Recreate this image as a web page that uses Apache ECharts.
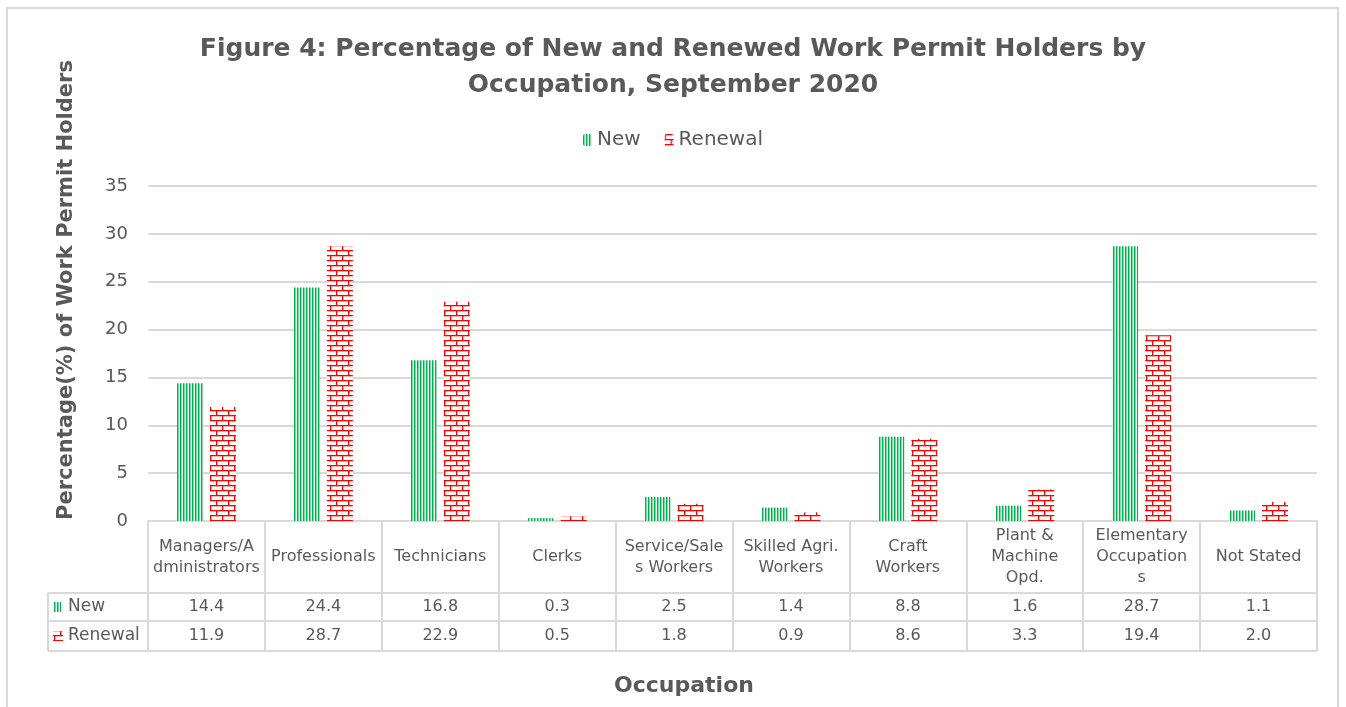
<!DOCTYPE html>
<html><head><meta charset="utf-8">
<script src="https://cdn.jsdelivr.net/npm/echarts@6/dist/echarts.min.js"></script>
<style>html,body{margin:0;padding:0;background:#fff}#c{width:1346px;height:707px}</style>
</head><body><div id="c"></div>
<script>
const categories = ['Managers/A\ndministrators','Professionals','Technicians','Clerks','Service/Sale\ns Workers','Skilled Agri.\nWorkers','Craft\nWorkers','Plant &\nMachine\nOpd.','Elementary\nOccupation\ns','Not Stated'];
const newValues = [14.4,24.4,16.8,0.3,2.5,1.4,8.8,1.6,28.7,1.1];
const renewalValues = [11.9,28.7,22.9,0.5,1.8,0.9,8.6,3.3,19.4,2.0];
const seriesNames = ['New','Renewal'];
const yTicks = {min:0, max:35, interval:5};

const FONT = 'DejaVu Sans';
const GRAY = '#595959';
const LINE = '#d9d9d9';

function stripeCanvas(){
  const c=document.createElement('canvas');c.width=3;c.height=4;
  const x=c.getContext('2d');
  x.fillStyle='#ffffff';x.fillRect(0,0,3,4);
  x.fillStyle='#00B050';x.fillRect(0,0,1,4);
  x.fillStyle='#7fd7a7';x.fillRect(1,0,1,4);
  x.fillStyle='#e8f7ee';x.fillRect(2,0,1,4);
  return c;
}
function brickCanvas(){
  const c=document.createElement('canvas');c.width=12;c.height=10;
  const x=c.getContext('2d');
  x.fillStyle='#ffffff';x.fillRect(0,0,12,10);
  x.fillStyle='#FF0000';
  x.fillRect(0,0,12,1.3);x.fillRect(0,5,12,1.3);
  x.fillRect(0,0,1.3,5);x.fillRect(6,5,1.3,5);
  return c;
}
const greenPat = {image: stripeCanvas(), repeat:'repeat'};
const redPat = {image: brickCanvas(), repeat:'repeat'};

const G = {left:148, right:29, top:186, bottom:186};
const W=1346,H=707;
const gBottom = H-G.bottom;       // 521
const gRight = W-G.right;         // 1317
const row1 = gBottom+72, row2 = row1+28, row3 = row2+30;
const tableLeft = 48;

const chart = echarts.init(document.getElementById('c'), null, {renderer:'canvas'});
chart.setOption({
  animation:false,
  backgroundColor:'#fff',
  title:{text:'Figure 4: Percentage of New and Renewed Work Permit Holders by\nOccupation, September 2020',
    left:'center', top:26,
    textStyle:{fontFamily:FONT, fontWeight:'bold', fontSize:25, color:GRAY, lineHeight:36}},
  legend:{top:125, left:'center', itemWidth:9, itemHeight:12, itemGap:24,
    textStyle:{fontFamily:FONT, fontSize:20, color:GRAY}, data:seriesNames},
  grid:{left:G.left, right:G.right, top:G.top, bottom:G.bottom, containLabel:false},
  xAxis:[
    {type:'category', data:categories, position:'bottom',
     axisLine:{show:true, lineStyle:{color:LINE, width:2}},
     axisTick:{show:true, interval:0, length:row3-gBottom, lineStyle:{color:LINE, width:2}},
     axisLabel:{interval:0, fontFamily:FONT, fontSize:16, color:GRAY, lineHeight:21, verticalAlign:'middle', margin:36}},
    {type:'category', data:categories, position:'bottom', offset:row1-gBottom,
     axisLine:{show:false}, axisTick:{show:false},
     axisLabel:{interval:0, fontFamily:FONT, fontSize:16, color:GRAY, verticalAlign:'middle', margin:14,
       formatter:(v,i)=>newValues[i].toFixed(1)}},
    {type:'category', data:categories, position:'bottom', offset:row2-gBottom,
     axisLine:{show:false}, axisTick:{show:false},
     axisLabel:{interval:0, fontFamily:FONT, fontSize:16, color:GRAY, verticalAlign:'middle', margin:15,
       formatter:(v,i)=>renewalValues[i].toFixed(1)}}
  ],
  yAxis:{type:'value', min:yTicks.min, max:yTicks.max, interval:yTicks.interval,
    axisLine:{show:false}, axisTick:{show:false},
    axisLabel:{fontFamily:FONT, fontSize:18, color:GRAY, margin:20},
    splitLine:{lineStyle:{color:LINE, width:2}}},
  series:[
    {name:seriesNames[0], type:'bar', data:newValues, barWidth:26, barGap:'27%',
     itemStyle:{color:greenPat}},
    {name:seriesNames[1], type:'bar', data:renewalValues, barWidth:26, barGap:'27%',
     itemStyle:{color:redPat}}
  ],
  graphic:[
    {type:'rect', shape:{x:7,y:8,width:1331,height:760}, style:{fill:'none', stroke:LINE, lineWidth:2}, silent:true, z:-1},
    {type:'line', shape:{x1:tableLeft,y1:row1,x2:gRight,y2:row1}, style:{stroke:LINE,lineWidth:2}},
    {type:'line', shape:{x1:tableLeft,y1:row2,x2:gRight,y2:row2}, style:{stroke:LINE,lineWidth:2}},
    {type:'line', shape:{x1:tableLeft,y1:row3,x2:gRight,y2:row3}, style:{stroke:LINE,lineWidth:2}},
    {type:'line', shape:{x1:tableLeft,y1:row1,x2:tableLeft,y2:row3}, style:{stroke:LINE,lineWidth:2}},
    {type:'rect', shape:{x:54,y:row1+9,width:7,height:10}, style:{fill:greenPat}},
    {type:'text', style:{x:68,y:(row1+row2)/2,text:seriesNames[0],font:'17px "DejaVu Sans"',fill:GRAY,verticalAlign:'middle'}},
    {type:'rect', shape:{x:53,y:row2+10,width:10,height:10}, style:{fill:redPat}},
    {type:'text', style:{x:68,y:(row2+row3)/2,text:seriesNames[1],font:'17px "DejaVu Sans"',fill:GRAY,verticalAlign:'middle'}},
    {type:'text', x:67, y:290, rotation:Math.PI/2,
     style:{x:0,y:0,text:'Percentage(%) of Work Permit Holders',font:'bold 21px "DejaVu Sans"',fill:GRAY,align:'center',verticalAlign:'middle'}},
    {type:'text', style:{x:684,y:686,text:'Occupation',font:'bold 22px "DejaVu Sans"',fill:GRAY,align:'center',verticalAlign:'middle'}}
  ]
});
</script></body></html>
